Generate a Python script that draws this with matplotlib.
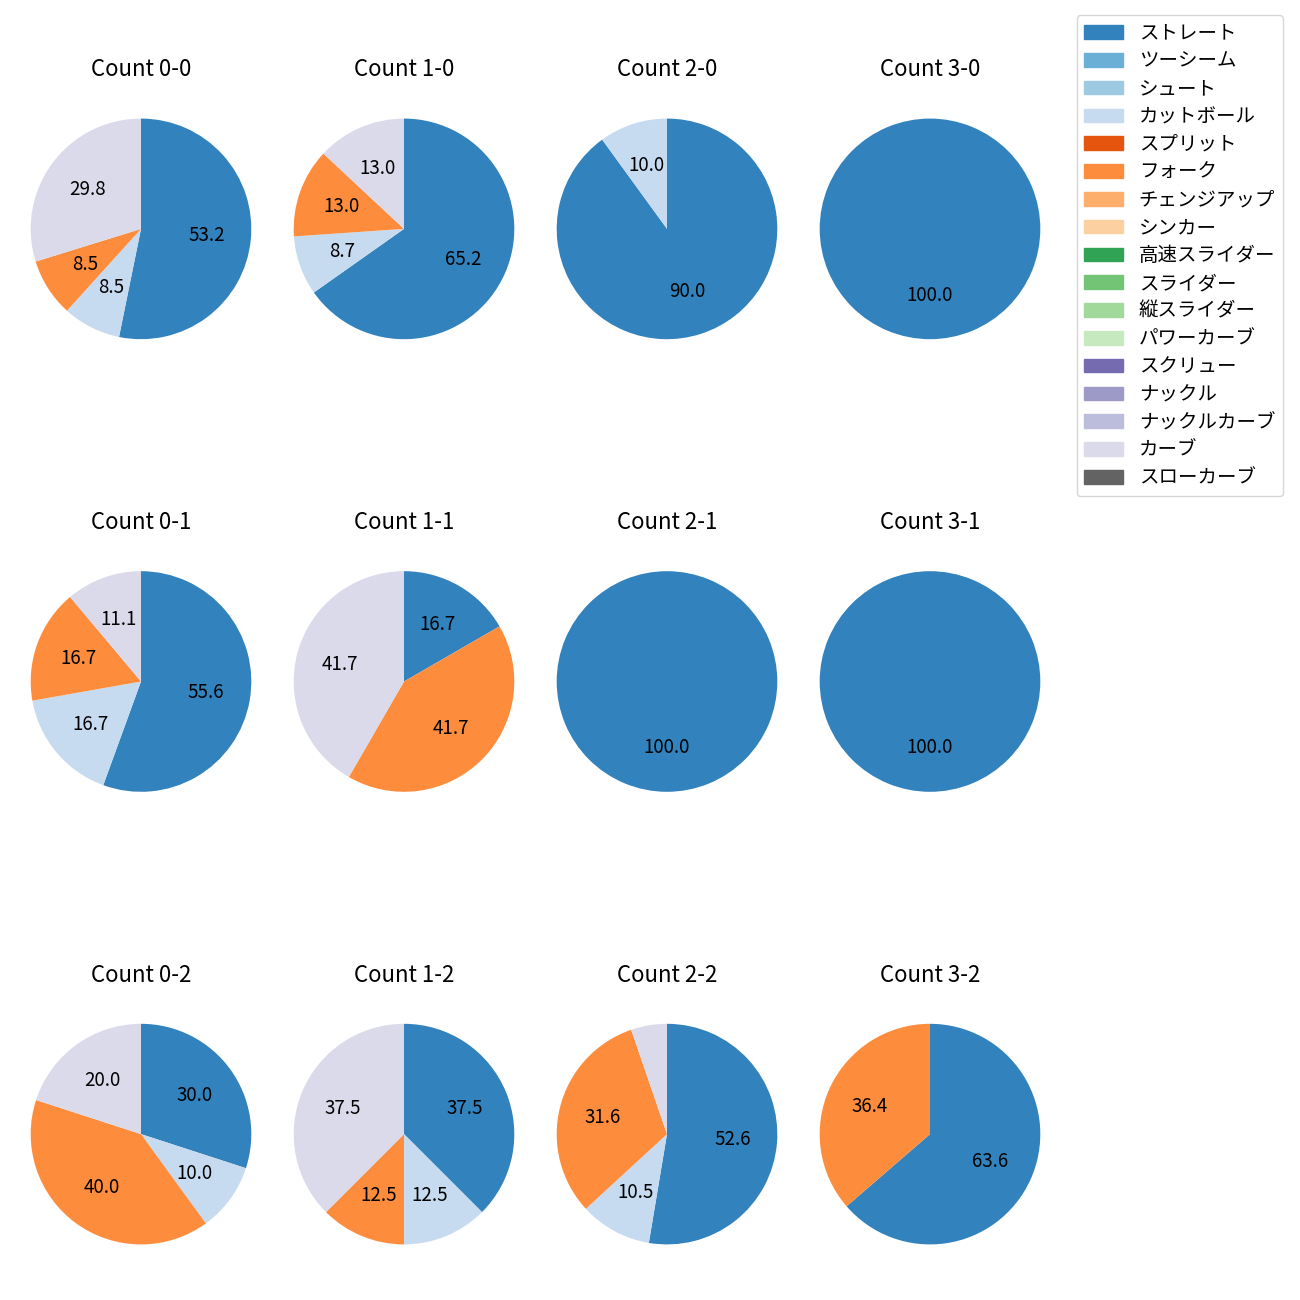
import matplotlib
matplotlib.use('Agg')
import matplotlib.pyplot as plt
from matplotlib.patches import Patch

plt.rcParams['font.family'] = ['Noto Sans CJK JP', 'DejaVu Sans']

pitch_types = ['ストレート', 'ツーシーム', 'シュート', 'カットボール', 'スプリット', 'フォーク',
               'チェンジアップ', 'シンカー', '高速スライダー', 'スライダー', '縦スライダー',
               'パワーカーブ', 'スクリュー', 'ナックル', 'ナックルカーブ', 'カーブ', 'スローカーブ']
cmap = plt.get_cmap('tab20c')
pitch_colors = [cmap(i) for i in range(17)]

counts = ['0-0', '1-0', '2-0', '3-0',
          '0-1', '1-1', '2-1', '3-1',
          '0-2', '1-2', '2-2', '3-2']
# pitches thrown per count
straight = [25, 15, 9, 1, 10, 2, 1, 1, 3, 3, 10, 7]
cutter   = [4, 2, 1, 0, 3, 0, 0, 0, 1, 1, 2, 0]
fork     = [4, 3, 0, 0, 3, 5, 0, 0, 4, 1, 6, 4]
curve    = [14, 3, 0, 0, 2, 5, 0, 0, 2, 3, 1, 0]

series = {'ストレート': straight, 'カットボール': cutter, 'フォーク': fork, 'カーブ': curve}

fig, axes = plt.subplots(3, 4, figsize=(13, 13), dpi=100)
fig.subplots_adjust(left=3 / 1300, right=1068 / 1300, top=1 - 91 / 1300, bottom=1 - 1272 / 1300,
                    wspace=-13 / 276, hspace=177 / 276)


def pct_label(p):
    return f'{p:.1f}' if p >= 7 else ''


for i, ax in enumerate(axes.flat):
    vals, cols = [], []
    for name, arr in series.items():
        if arr[i] > 0:
            vals.append(arr[i])
            cols.append(pitch_colors[pitch_types.index(name)])
    ax.pie(vals, colors=cols, startangle=90, counterclock=False,
           autopct=pct_label, textprops={'fontsize': 13.5})
    ax.set_title(f'Count {counts[i]}', fontsize=16, pad=10.5)

handles = [Patch(color=c, label=n) for n, c in zip(pitch_types, pitch_colors)]
fig.legend(handles=handles, loc='upper right', bbox_to_anchor=(1283 / 1300, 1 - 15 / 1300),
           borderaxespad=0, fontsize=14, labelspacing=0.35)

fig.savefig('out.png')
